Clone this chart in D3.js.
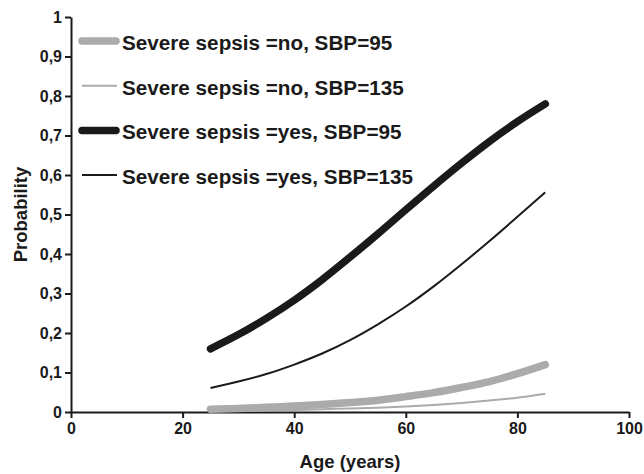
<!DOCTYPE html>
<html>
<head>
<meta charset="utf-8">
<script src="https://cdn.jsdelivr.net/npm/d3@7"></script>
<style>
  body { margin: 0; background: #fff; }
  text { font-family: "Liberation Sans", Arial, sans-serif; font-weight: bold; fill: #1a1a1a; }
</style>
</head>
<body>
<div id="chart"></div>
<script>
// predicted probability by age, four groups

var ages = [25, 30, 35, 40, 45, 50, 55, 60, 65, 70, 75, 80, 85];
var noSbp95 = [0.007, 0.009, 0.012, 0.015, 0.019, 0.024, 0.030, 0.039, 0.049, 0.062, 0.077, 0.097, 0.120];
var noSbp135 = [0.003, 0.003, 0.004, 0.005, 0.007, 0.009, 0.011, 0.014, 0.018, 0.023, 0.029, 0.036, 0.046];
var yesSbp95 = [0.160, 0.196, 0.237, 0.283, 0.335, 0.392, 0.451, 0.512, 0.572, 0.630, 0.685, 0.735, 0.780];
var yesSbp135 = [0.061, 0.077, 0.096, 0.120, 0.148, 0.182, 0.222, 0.267, 0.318, 0.374, 0.433, 0.494, 0.556];
var seriesNames = ["Severe sepsis =no, SBP=95", "Severe sepsis =no, SBP=135",
                   "Severe sepsis =yes, SBP=95", "Severe sepsis =yes, SBP=135"];
var xTicks = [0, 20, 40, 60, 80, 100];
var yTicks = [0, 0.1, 0.2, 0.3, 0.4, 0.5, 0.6, 0.7, 0.8, 0.9, 1];

var totwidth = 644,
    totheight = 474,
    margin = {left: 71, right: 15, top: 17, bottom: 62};

var series = [
  {name: seriesNames[0], values: noSbp95, color: "#ababab", w: 7.5, cap: "round"},
  {name: seriesNames[1], values: noSbp135, color: "#ababab", w: 2, cap: "butt"},
  {name: seriesNames[2], values: yesSbp95, color: "#1a1a1a", w: 7.5, cap: "round"},
  {name: seriesNames[3], values: yesSbp135, color: "#1a1a1a", w: 2, cap: "butt"}
];

var svg = d3.select("#chart").append("svg")
    .attr("width", totwidth)
    .attr("height", totheight);

var xScale = d3.scaleLinear()
    .domain([0, 100])
    .range([margin.left, totwidth - margin.right]);

var yScale = d3.scaleLinear()
    .domain([0, 1])
    .range([totheight - margin.bottom, margin.top]);

var fmt = function(d) { return d === 0 || d === 1 ? String(d) : d3.format(".1f")(d).replace(".", ","); };

// x axis
var xAxis = svg.append("g")
    .attr("transform", "translate(0," + yScale(0) + ")")
    .call(d3.axisBottom(xScale).tickValues(xTicks).tickSize(6).tickSizeOuter(0).tickPadding(5));

// y axis
var yAxis = svg.append("g")
    .attr("transform", "translate(" + xScale(0) + ",0)")
    .call(d3.axisLeft(yScale).tickValues(yTicks).tickFormat(fmt).tickSize(6).tickSizeOuter(0).tickPadding(3));

[xAxis, yAxis].forEach(function(ax) {
  ax.select(".domain").attr("stroke", "#1a1a1a").attr("stroke-width", 2);
  ax.selectAll(".tick line").attr("stroke", "#1a1a1a").attr("stroke-width", 2);
  ax.selectAll(".tick text").style("font-size", "16px").attr("fill", "#1a1a1a");
});

// curves
var line = d3.line()
    .x(function(d, i) { return xScale(ages[i]); })
    .y(function(d) { return yScale(d); })
    .curve(d3.curveMonotoneX);

svg.selectAll(".curve")
    .data(series)
    .enter()
    .append("path")
      .attr("class", "curve")
      .attr("fill", "none")
      .attr("stroke", function(d) { return d.color; })
      .attr("stroke-width", function(d) { return d.w; })
      .attr("stroke-linecap", function(d) { return d.cap; })
      .attr("d", function(d) { return line(d.values); });

// legend
var legend = svg.selectAll(".legendItem")
    .data(series)
    .enter()
    .append("g")
      .attr("class", "legendItem")
      .attr("transform", function(d, i) { return "translate(0," + (41 + i * 44.7) + ")"; });

legend.append("line")
    .attr("x1", 82)
    .attr("x2", function(d) { return d.cap === "round" ? 116 : 117; })
    .attr("stroke", function(d) { return d.color; })
    .attr("stroke-width", function(d) { return d.w; })
    .attr("stroke-linecap", function(d) { return d.cap; });

legend.append("text")
    .attr("x", 122)
    .attr("y", 9)
    .style("font-size", "20.7px")
    .text(function(d) { return d.name; });

// axis titles
svg.append("text")
    .attr("x", (xScale(0) + xScale(100)) / 2)
    .attr("y", 468)
    .attr("text-anchor", "middle")
    .style("font-size", "18.5px")
    .text("Age (years)");

svg.append("text")
    .attr("transform", "translate(27," + yScale(0.5) + ") rotate(-90)")
    .attr("text-anchor", "middle")
    .style("font-size", "18.5px")
    .text("Probability");
</script>
</body>
</html>
